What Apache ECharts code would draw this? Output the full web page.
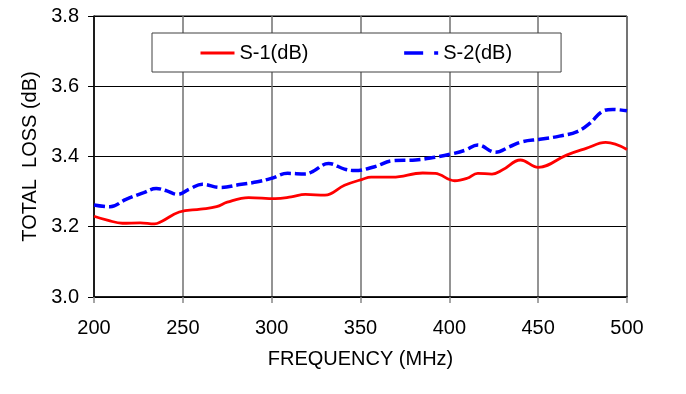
<!DOCTYPE html>
<html>
<head>
<meta charset="utf-8">
<script src="https://cdn.jsdelivr.net/npm/echarts@6/dist/echarts.min.js"></script>
<style>
html,body{margin:0;padding:0;background:#fff;}
#c{width:686px;height:394px;}
</style>
</head>
<body>
<div id="c"></div>
<script>
const freqS1 = [200,208,216,226,234,238,248,260,269,275,287,302,311,319,330,341,351,356,368,385,392,403,410,416,424,430,440,450,466,477,488,500];
const lossS1 = [3.23,3.218,3.21,3.211,3.208,3.215,3.242,3.25,3.257,3.27,3.283,3.28,3.285,3.292,3.29,3.318,3.335,3.341,3.341,3.353,3.352,3.331,3.338,3.352,3.35,3.362,3.39,3.369,3.404,3.423,3.44,3.42];
const freqS2 = [200,209,218,228,235,241,247,254,261,271,282,292,300,309,319,323,332,341,347,358,368,381,392,401,409,416,426,434,441,451,462,472,479,486,492,500];
const lossS2 = [3.262,3.257,3.278,3.297,3.309,3.302,3.292,3.308,3.321,3.312,3.32,3.328,3.338,3.352,3.35,3.357,3.38,3.364,3.36,3.371,3.388,3.39,3.398,3.407,3.418,3.433,3.412,3.428,3.442,3.449,3.458,3.471,3.494,3.528,3.534,3.53];
const seriesNames = ['S-1(dB)','S-2(dB)'];
const xTicks = [200,250,300,350,400,450,500];
const yTicks = [3.0,3.2,3.4,3.6,3.8];

const font = 'Liberation Sans, Arial, sans-serif';
const chart = echarts.init(document.getElementById('c'), null, {renderer:'canvas'});
chart.setOption({
  animation:false,
  backgroundColor:'#fff',
  grid:{left:94,right:59,top:16,bottom:97,show:true,borderColor:'#000',borderWidth:1,backgroundColor:'transparent'},
  legend:{
    show:true,
    left:152, top:33,
    orient:'horizontal',
    padding:[10,49,9,47],
    itemGap:94,
    itemWidth:34, itemHeight:14,
    borderColor:'#404040', borderWidth:1,
    backgroundColor:'#fff',
    textStyle:{fontFamily:font,fontSize:20,color:'#000'},
    data:[
      {name:seriesNames[0], itemStyle:{opacity:0}, lineStyle:{color:'#ff0000',width:3,type:'solid'}},
      {name:seriesNames[1], itemStyle:{opacity:0}, lineStyle:{color:'#0000ff',width:3.5,type:[19,11]}}
    ]
  },
  xAxis:{
    type:'value', min:xTicks[0], max:xTicks[xTicks.length-1], interval:50,
    name:'FREQUENCY (MHz)', nameLocation:'middle', nameGap:52,
    nameTextStyle:{fontFamily:font,fontSize:20,color:'#000'},
    axisLine:{show:true,onZero:false,lineStyle:{color:'#000',width:1.5}},
    axisTick:{show:true,length:6,lineStyle:{color:'#888',width:1.5}},
    axisLabel:{fontFamily:font,fontSize:20,color:'#000',margin:21},
    splitLine:{show:true,lineStyle:{color:'#707070',width:1.5}}
  },
  yAxis:{
    type:'value', min:yTicks[0], max:yTicks[yTicks.length-1], interval:0.2,
    name:'TOTAL  LOSS (dB)', nameLocation:'middle', nameGap:52,
    nameTextStyle:{fontFamily:font,fontSize:20,color:'#000'},
    axisLine:{show:true,onZero:false,lineStyle:{color:'#000',width:1.5}},
    axisTick:{show:true,length:6,lineStyle:{color:'#000',width:1}},
    axisLabel:{fontFamily:font,fontSize:20,color:'#000',margin:15,formatter:v=>v.toFixed(1)},
    splitLine:{show:true,lineStyle:{color:'#000',width:1.2}}
  },
  series:[
    {name:seriesNames[0], type:'line', smooth:0.4, symbol:'none',
     data:freqS1.map((f,i)=>[f,lossS1[i]]),
     lineStyle:{color:'#ff0000',width:2.8}, itemStyle:{color:'#ff0000'}, z:3},
    {name:seriesNames[1], type:'line', smooth:0.4, symbol:'none',
     data:freqS2.map((f,i)=>[f,lossS2[i]]),
     lineStyle:{color:'#0000ff',width:3.5,type:[11,4]}, itemStyle:{color:'#0000ff'}, z:3}
  ]
});
</script>
</body>
</html>
